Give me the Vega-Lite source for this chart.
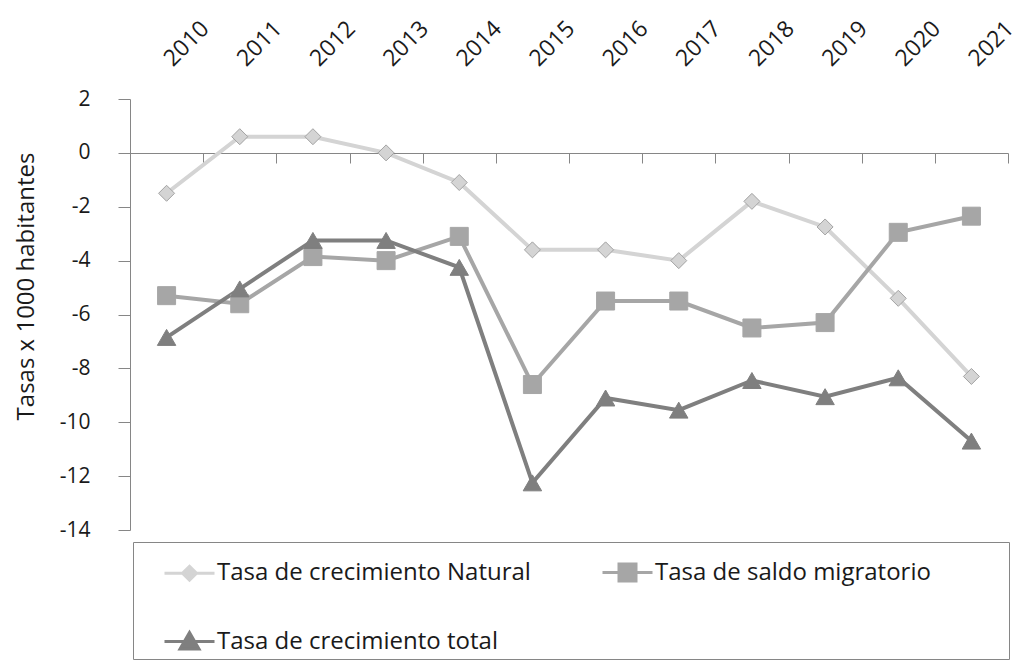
{
  "$schema": "https://vega.github.io/schema/vega-lite/v6.json",
  "width": 878,
  "height": 431,
  "autosize": {"type": "none"},
  "padding": {"left": 130, "top": 99, "right": 13, "bottom": 139},
  "background": "white",
  "config": {"view": {"stroke": null}, "font": "Open Sans"},
  "data": {
    "values": [
      {"year": "2010", "serie": "Tasa de crecimiento Natural", "value": -1.5},
      {"year": "2011", "serie": "Tasa de crecimiento Natural", "value": 0.6},
      {"year": "2012", "serie": "Tasa de crecimiento Natural", "value": 0.6},
      {"year": "2013", "serie": "Tasa de crecimiento Natural", "value": 0.0},
      {"year": "2014", "serie": "Tasa de crecimiento Natural", "value": -1.1},
      {"year": "2015", "serie": "Tasa de crecimiento Natural", "value": -3.6},
      {"year": "2016", "serie": "Tasa de crecimiento Natural", "value": -3.6},
      {"year": "2017", "serie": "Tasa de crecimiento Natural", "value": -4.0},
      {"year": "2018", "serie": "Tasa de crecimiento Natural", "value": -1.8},
      {"year": "2019", "serie": "Tasa de crecimiento Natural", "value": -2.75},
      {"year": "2020", "serie": "Tasa de crecimiento Natural", "value": -5.4},
      {"year": "2021", "serie": "Tasa de crecimiento Natural", "value": -8.3},
      {"year": "2010", "serie": "Tasa de saldo migratorio", "value": -5.3},
      {"year": "2011", "serie": "Tasa de saldo migratorio", "value": -5.6},
      {"year": "2012", "serie": "Tasa de saldo migratorio", "value": -3.85},
      {"year": "2013", "serie": "Tasa de saldo migratorio", "value": -4.0},
      {"year": "2014", "serie": "Tasa de saldo migratorio", "value": -3.1},
      {"year": "2015", "serie": "Tasa de saldo migratorio", "value": -8.6},
      {"year": "2016", "serie": "Tasa de saldo migratorio", "value": -5.5},
      {"year": "2017", "serie": "Tasa de saldo migratorio", "value": -5.5},
      {"year": "2018", "serie": "Tasa de saldo migratorio", "value": -6.5},
      {"year": "2019", "serie": "Tasa de saldo migratorio", "value": -6.3},
      {"year": "2020", "serie": "Tasa de saldo migratorio", "value": -2.95},
      {"year": "2021", "serie": "Tasa de saldo migratorio", "value": -2.35},
      {"year": "2010", "serie": "Tasa de crecimiento total", "value": -6.85},
      {"year": "2011", "serie": "Tasa de crecimiento total", "value": -5.05},
      {"year": "2012", "serie": "Tasa de crecimiento total", "value": -3.25},
      {"year": "2013", "serie": "Tasa de crecimiento total", "value": -3.25},
      {"year": "2014", "serie": "Tasa de crecimiento total", "value": -4.25},
      {"year": "2015", "serie": "Tasa de crecimiento total", "value": -12.25},
      {"year": "2016", "serie": "Tasa de crecimiento total", "value": -9.1},
      {"year": "2017", "serie": "Tasa de crecimiento total", "value": -9.55},
      {"year": "2018", "serie": "Tasa de crecimiento total", "value": -8.45},
      {"year": "2019", "serie": "Tasa de crecimiento total", "value": -9.05},
      {"year": "2020", "serie": "Tasa de crecimiento total", "value": -8.35},
      {"year": "2021", "serie": "Tasa de crecimiento total", "value": -10.7}
    ]
  },
  "encoding": {
    "x": {
      "field": "year",
      "type": "ordinal",
      "scale": {"type": "band", "paddingInner": 0, "paddingOuter": 0},
      "axis": {
        "orient": "top",
        "offset": -54,
        "title": null,
        "tickBand": "extent",
        "tickSize": -10,
        "tickColor": "#868686",
        "domainColor": "#868686",
        "labelAngle": -45,
        "labelAlign": "left",
        "labelBaseline": "middle",
        "labelPadding": 101,
        "labelOffset": 1,
        "labelFont": "Open Sans",
        "labelFontSize": 23,
        "labelColor": "#1a1a1a"
      }
    },
    "y": {
      "field": "value",
      "type": "quantitative",
      "scale": {"domain": [-14, 2], "nice": false, "zero": false},
      "axis": {
        "values": [2, 0, -2, -4, -6, -8, -10, -12, -14],
        "labelExpr": "replace(datum.label, '\u2212', '-')",
        "grid": false,
        "domainColor": "#868686",
        "tickColor": "#868686",
        "tickSize": 12,
        "labelPadding": 28,
        "labelFont": "Open Sans",
        "labelFontSize": 21,
        "labelColor": "#1a1a1a",
        "title": "Tasas x 1000 habitantes",
        "titleFont": "Open Sans",
        "titleFontSize": 24,
        "titleFontWeight": "normal",
        "titleColor": "#1a1a1a",
        "titleX": -104,
        "titleY": 187,
        "titleAngle": -90,
        "titleAlign": "center",
        "titleBaseline": "middle"
      }
    }
  },
  "layer": [
    {
      "mark": {"type": "line", "strokeWidth": 4},
      "encoding": {
        "color": {
          "field": "serie",
          "type": "nominal",
          "scale": {
            "domain": ["Tasa de crecimiento Natural", "Tasa de saldo migratorio", "Tasa de crecimiento total"],
            "range": ["#d4d4d4", "#a6a6a6", "#7f7f7f"]
          },
          "legend": {
            "title": ["\u00a0", "\u00a0", "\u00a0"],
            "titleOrient": "right",
            "titleAnchor": "start",
            "titlePadding": 74,
            "titleFontSize": 4,
            "titleLineHeight": 50,
            "titleColor": "white",
            "orient": "none",
            "legendX": 3,
            "legendY": 443,
            "direction": "horizontal",
            "columns": 2,
            "columnPadding": 44,
            "rowPadding": 28,
            "padding": 4,
            "strokeColor": "#868686",
            "fillColor": "white",
            "symbolSize": 2500,
            "symbolOffset": 26,
            "symbolStrokeWidth": 3,
            "labelFont": "Open Sans",
            "labelFontSize": 24,
            "labelColor": "#1a1a1a",
            "labelLimit": 700,
            "labelOffset": 1,
            "encode": {
              "symbols": {
                "update": {
                  "shape": {"signal": "datum.value === 'Tasa de crecimiento Natural' ? 'M-1,0H-0.28M0.28,0H1M0,-0.28L0.28,0L0,0.28L-0.28,0Z' : datum.value === 'Tasa de saldo migratorio' ? 'M-1,0H1M-0.34,-0.34H0.34V0.34H-0.34Z' : 'M-1,0H1M0,-0.36L0.38,0.3H-0.38Z'"},
                  "fill": {"signal": "datum.value === 'Tasa de crecimiento Natural' ? '#d4d4d4' : datum.value === 'Tasa de saldo migratorio' ? '#a6a6a6' : '#7f7f7f'"},
                  "stroke": {"signal": "datum.value === 'Tasa de crecimiento Natural' ? '#bdbdbd' : datum.value === 'Tasa de saldo migratorio' ? '#a6a6a6' : '#7f7f7f'"},
                  "strokeWidth": {"value": 3},
                  "opacity": {"value": 1}
                }
              }
            }
          }
        }
      }
    },
    {
      "mark": {"type": "point", "filled": true, "opacity": 1, "strokeWidth": 1},
      "encoding": {
        "color": {"field": "serie", "type": "nominal", "legend": null},
        "shape": {
          "condition": [
            {"test": "datum.serie === 'Tasa de crecimiento Natural'", "value": "diamond"},
            {"test": "datum.serie === 'Tasa de saldo migratorio'", "value": "square"}
          ],
          "value": "triangle-up"
        },
        "size": {
          "condition": [
            {"test": "datum.serie === 'Tasa de crecimiento Natural'", "value": 256},
            {"test": "datum.serie === 'Tasa de saldo migratorio'", "value": 324}
          ],
          "value": 340
        },
        "stroke": {
          "condition": [
            {"test": "datum.serie === 'Tasa de crecimiento Natural'", "value": "#a3a3a3"},
            {"test": "datum.serie === 'Tasa de saldo migratorio'", "value": "#a6a6a6"}
          ],
          "value": "#7f7f7f"
        }
      }
    }
  ]
}
